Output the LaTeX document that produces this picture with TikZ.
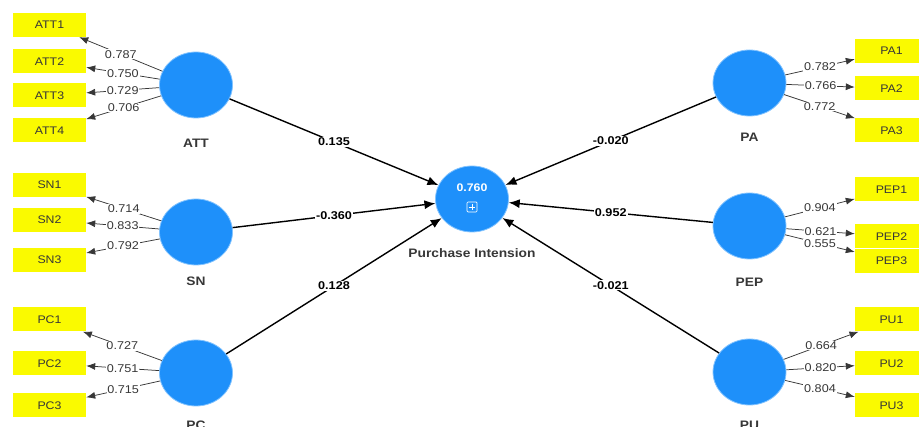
\documentclass[tikz,border=0pt]{standalone}
\usepackage{fontspec}
\usepackage{graphicx}
\setmainfont{Liberation Sans}
\usetikzlibrary{shapes.geometric,arrows.meta}
\definecolor{lvblue}{RGB}{30,144,250}
\definecolor{lvedge}{RGB}{130,195,255}
\definecolor{indyel}{RGB}{250,250,0}
\definecolor{txtgray}{RGB}{55,55,55}
\newcommand\wtxt[1]{\scalebox{1.12}[1]{#1}}
\begin{document}
\begin{tikzpicture}[x=1pt,y=-1pt,
  latent/.style={ellipse, fill=lvblue, draw=lvedge, line width=0.8pt, minimum width=73pt, minimum height=66pt, inner sep=0pt},
  indbox/.style={rectangle, fill=indyel, minimum width=73pt, minimum height=24pt, inner sep=0pt, font=\fontsize{11}{12}\selectfont, text=txtgray},
  load/.style={draw=txtgray, line width=0.75pt, -{Latex[length=9pt,width=7pt]}},
  loadlab/.style={fill=white, inner sep=0.8pt, font=\fontsize{11.3}{12}\selectfont, text=txtgray},
  pathc/.style={draw=black, line width=1.4pt, -{Latex[length=11pt,width=9pt]}},
  pathlab/.style={fill=white, inner sep=1pt, font=\bfseries\fontsize{11.3}{12}\selectfont},
  lvlab/.style={font=\bfseries\fontsize{12.3}{14}\selectfont, text=txtgray}]
\useasboundingbox (0,0) rectangle (919,427);
\clip (0,0) rectangle (919,427);

% latent variables
\node[latent] (ATT) at (196,85) {};
\node[latent] (SN)  at (196,232) {};
\node[latent] (PC)  at (196,373) {};
\node[latent] (PA)  at (749.5,83) {};
\node[latent] (PEP) at (749.5,226) {};
\node[latent] (PU)  at (749.5,372) {};
\node[latent] (PI)  at (472,199) {};

\node[lvlab] (lATT) at (196,143) {\wtxt{ATT}};
\node[lvlab] (lSN)  at (196,281.5) {\wtxt{SN}};
\node[lvlab,anchor=base] (lPC) at (196,430) {\wtxt{PC}};
\node[lvlab] (lPA)  at (749.5,137) {\wtxt{PA}};
\node[lvlab] (lPEP) at (749.5,282) {\wtxt{PEP}};
\node[lvlab,anchor=base] (lPU) at (749.5,430) {\wtxt{PU}};
\node[lvlab] (lPI)  at (472,253) {\wtxt{Purchase Intension}};

\node[font=\bfseries\fontsize{11}{12}\selectfont, text=white] (r2) at (472,188) {\wtxt{0.760}};
\node[draw=white, line width=0.7pt, rounded corners=1pt, minimum size=10pt, inner sep=0pt] (icon) at (472,207) {};
\draw[white, line width=0.7pt] ([yshift=-2pt]icon.north) -- ([yshift=2pt]icon.south);
\draw[white, line width=0.7pt] ([xshift=2pt]icon.west) -- ([xshift=-2pt]icon.east);

% indicators left
\node[indbox] (ATT1) at (49.5,25)    {\wtxt{ATT1}};
\node[indbox] (ATT2) at (49.5,61.5)  {\wtxt{ATT2}};
\node[indbox] (ATT3) at (49.5,95.5)  {\wtxt{ATT3}};
\node[indbox] (ATT4) at (49.5,130.5) {\wtxt{ATT4}};
\node[indbox] (SN1) at (49.5,185) {\wtxt{SN1}};
\node[indbox] (SN2) at (49.5,220) {\wtxt{SN2}};
\node[indbox] (SN3) at (49.5,260) {\wtxt{SN3}};
\node[indbox] (PC1) at (49.5,319.5) {\wtxt{PC1}};
\node[indbox] (PC2) at (49.5,363.5) {\wtxt{PC2}};
\node[indbox] (PC3) at (49.5,405.5) {\wtxt{PC3}};
% indicators right
\node[indbox] (PA1) at (891.5,51)    {\wtxt{PA1}};
\node[indbox] (PA2) at (891.5,88.5)  {\wtxt{PA2}};
\node[indbox] (PA3) at (891.5,130.5) {\wtxt{PA3}};
\node[indbox] (PEP1) at (891.5,189.5) {\wtxt{PEP1}};
\node[indbox] (PEP2) at (891.5,236.5) {\wtxt{PEP2}};
\node[indbox] (PEP3) at (891.5,261)   {\wtxt{PEP3}};
\node[indbox] (PU1) at (891.5,319.5) {\wtxt{PU1}};
\node[indbox] (PU2) at (891.5,363.5) {\wtxt{PU2}};
\node[indbox] (PU3) at (891.5,405.5) {\wtxt{PU3}};

% loadings
\draw[load] (ATT) -- node[loadlab]{\wtxt{0.787}} (ATT1);
\draw[load] (ATT) -- node[loadlab]{\wtxt{0.750}} (ATT2);
\draw[load] (ATT) -- node[loadlab]{\wtxt{0.729}} (ATT3);
\draw[load] (ATT) -- node[loadlab]{\wtxt{0.706}} (ATT4);
\draw[load] (SN) -- node[loadlab]{\wtxt{0.714}} (SN1);
\draw[load] (SN) -- node[loadlab]{\wtxt{0.833}} (SN2);
\draw[load] (SN) -- node[loadlab]{\wtxt{0.792}} (SN3);
\draw[load] (PC) -- node[loadlab]{\wtxt{0.727}} (PC1);
\draw[load] (PC) -- node[loadlab]{\wtxt{0.751}} (PC2);
\draw[load] (PC) -- node[loadlab]{\wtxt{0.715}} (PC3);
\draw[load] (PA) -- node[loadlab]{\wtxt{0.782}} (PA1);
\draw[load] (PA) -- node[loadlab]{\wtxt{0.766}} (PA2);
\draw[load] (PA) -- node[loadlab]{\wtxt{0.772}} (PA3);
\draw[load] (PEP) -- node[loadlab]{\wtxt{0.904}} (PEP1);
\draw[load] (PEP) -- node[loadlab]{\wtxt{0.621}} (PEP2);
\draw[load] (PEP) -- node[loadlab]{\wtxt{0.555}} (PEP3);
\draw[load] (PU) -- node[loadlab]{\wtxt{0.664}} (PU1);
\draw[load] (PU) -- node[loadlab]{\wtxt{0.820}} (PU2);
\draw[load] (PU) -- node[loadlab]{\wtxt{0.804}} (PU3);

% paths
\draw[pathc] (ATT) -- node[pathlab]{\wtxt{0.135}} (PI);
\draw[pathc] (SN)  -- node[pathlab]{\wtxt{-0.360}} (PI);
\draw[pathc] (PC)  -- node[pathlab]{\wtxt{0.128}} (PI);
\draw[pathc] (PA)  -- node[pathlab]{\wtxt{-0.020}} (PI);
\draw[pathc] (PEP) -- node[pathlab]{\wtxt{0.952}} (PI);
\draw[pathc] (PU)  -- node[pathlab]{\wtxt{-0.021}} (PI);
\end{tikzpicture}
\end{document}
